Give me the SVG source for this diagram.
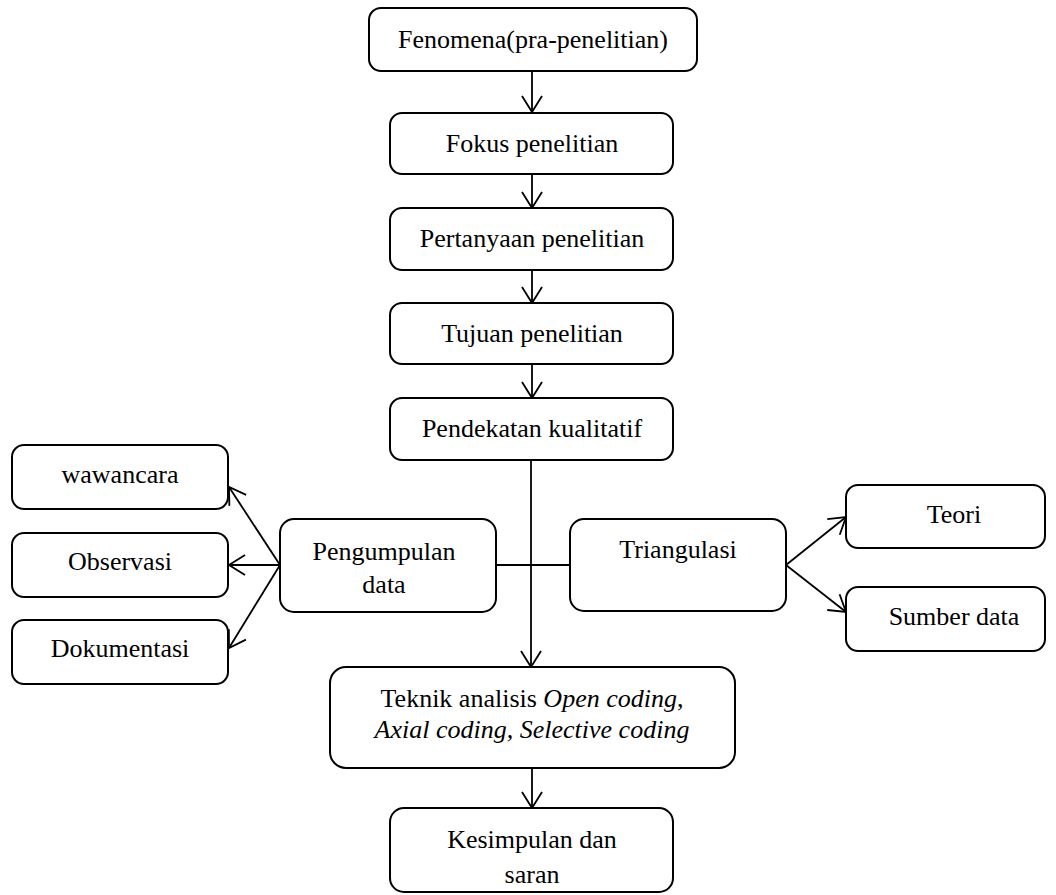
<svg xmlns="http://www.w3.org/2000/svg" width="1056" height="895" viewBox="0 0 1056 895">
<style>
.box{fill:#fff;stroke:#000;stroke-width:2}
.t{font-family:"Liberation Serif","Times New Roman",serif;font-size:26px;fill:#000;text-anchor:middle}
.i{font-style:italic}
.c{fill:none;stroke:#000;stroke-width:1.8}
</style>
<defs>
<marker id="ah" markerUnits="userSpaceOnUse" markerWidth="20" markerHeight="24" viewBox="0 0 20 24" refX="18" refY="12" orient="auto">
<path d="M2,2 L18,12 L2,22" fill="none" stroke="#000" stroke-width="1.8"/>
</marker>
</defs>
<rect width="1056" height="895" fill="#fff"/>
<g id="connectors">
<line class="c" x1="532" y1="71" x2="532" y2="112" marker-end="url(#ah)"/>
<line class="c" x1="532" y1="174" x2="532" y2="208" marker-end="url(#ah)"/>
<line class="c" x1="532" y1="270" x2="532" y2="303" marker-end="url(#ah)"/>
<line class="c" x1="532" y1="364" x2="532" y2="398" marker-end="url(#ah)"/>
<line class="c" x1="531" y1="460" x2="531" y2="667" marker-end="url(#ah)"/>
<line class="c" x1="496" y1="565" x2="570" y2="565"/>
<line class="c" x1="280" y1="565" x2="229" y2="487" marker-end="url(#ah)"/>
<line class="c" x1="280" y1="565" x2="229" y2="565" marker-end="url(#ah)"/>
<line class="c" x1="280" y1="565" x2="229" y2="648" marker-end="url(#ah)"/>
<line class="c" x1="786" y1="565" x2="846" y2="517" marker-end="url(#ah)"/>
<line class="c" x1="786" y1="565" x2="846" y2="612" marker-end="url(#ah)"/>
<line class="c" x1="532" y1="768" x2="532" y2="808" marker-end="url(#ah)"/>
</g>
<g id="n1"><rect class="box" x="369" y="8" width="328" height="63" rx="12"/><text class="t" x="533" y="48">Fenomena(pra-penelitian)</text></g>
<g id="n2"><rect class="box" x="390" y="113" width="283" height="61" rx="12"/><text class="t" x="532" y="152">Fokus penelitian</text></g>
<g id="n3"><rect class="box" x="390" y="208" width="283" height="62" rx="12"/><text class="t" x="532" y="247">Pertanyaan penelitian</text></g>
<g id="n4"><rect class="box" x="390" y="303" width="283" height="61" rx="12"/><text class="t" x="532" y="342">Tujuan penelitian</text></g>
<g id="n5"><rect class="box" x="390" y="398" width="283" height="62" rx="12"/><text class="t" x="532" y="437">Pendekatan kualitatif</text></g>
<g id="n6"><rect class="box" x="12" y="445" width="216" height="64" rx="12"/><text class="t" x="120" y="483">wawancara</text></g>
<g id="n7"><rect class="box" x="12" y="533" width="216" height="64" rx="12"/><text class="t" x="120" y="570">Observasi</text></g>
<g id="n8"><rect class="box" x="12" y="620" width="216" height="64" rx="12"/><text class="t" x="120" y="657">Dokumentasi</text></g>
<g id="n9"><rect class="box" x="280" y="519" width="216" height="93" rx="14"/><text class="t" x="384" y="560">Pengumpulan</text><text class="t" x="384" y="593">data</text></g>
<g id="n10"><rect class="box" x="570" y="519" width="216" height="92" rx="14"/><text class="t" x="678" y="558">Triangulasi</text></g>
<g id="n11"><rect class="box" x="846" y="485" width="199" height="63" rx="12"/><text class="t" x="954" y="523">Teori</text></g>
<g id="n12"><rect class="box" x="846" y="587" width="199" height="64" rx="12"/><text class="t" x="954" y="625">Sumber data</text></g>
<g id="n13"><rect class="box" x="330" y="667" width="405" height="101" rx="16"/><text class="t" x="532" y="707">Teknik analisis <tspan class="i">Open coding</tspan>,</text><text class="t i" x="532" y="738">Axial coding, Selective coding</text></g>
<g id="n14"><rect class="box" x="390" y="808" width="283" height="84" rx="14"/><text class="t" x="532" y="848">Kesimpulan dan</text><text class="t" x="532" y="883">saran</text></g>
</svg>
